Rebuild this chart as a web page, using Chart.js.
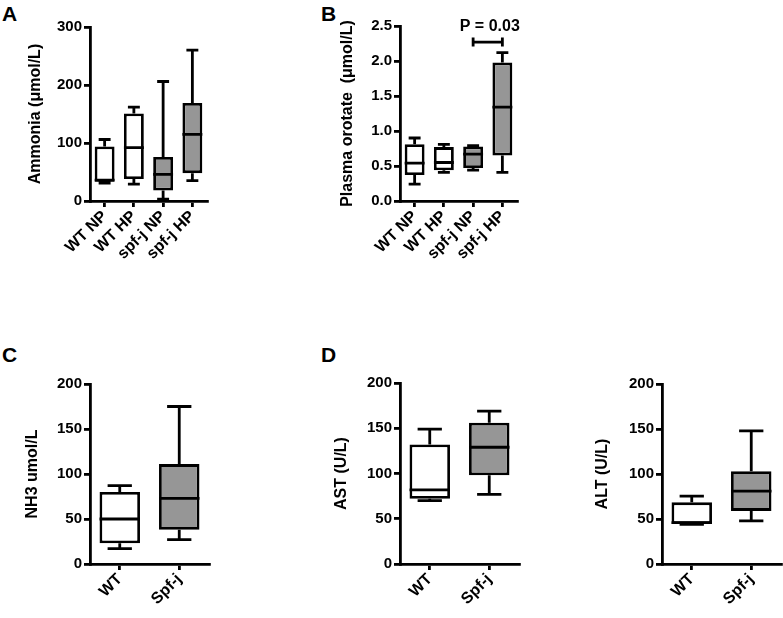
<!DOCTYPE html>
<html>
<head>
<meta charset="utf-8">
<script src="https://cdn.jsdelivr.net/npm/chart.js@4"></script>
<style>
  body { margin: 0; background: #fff; }
  #page { position: relative; width: 783px; height: 618px; overflow: hidden; font-family: 'Liberation Sans', Arial, sans-serif; }
  .panel { position: absolute; }
  .letter { position: absolute; font-weight: bold; font-size: 21px; color: #000; }
</style>
</head>
<body>
<div id="page">
  <div class="letter" style="left:2px;top:2px;">A</div>
  <div class="letter" style="left:321px;top:2px;">B</div>
  <div class="letter" style="left:2px;top:343px;">C</div>
  <div class="letter" style="left:321px;top:343px;">D</div>
  <canvas id="chartA" class="panel" width="230" height="300" style="left:0;top:0;"></canvas>
  <canvas id="chartB" class="panel" width="230" height="300" style="left:310px;top:0;"></canvas>
  <canvas id="chartC" class="panel" width="230" height="298" style="left:0;top:320px;"></canvas>
  <canvas id="chartAST" class="panel" width="230" height="298" style="left:310px;top:320px;"></canvas>
  <canvas id="chartALT" class="panel" width="223" height="298" style="left:560px;top:320px;"></canvas>
</div>
<script>
// --- datos: [min, q1, mediana, q3, max] ---
const groups4 = ['WT NP', 'WT HP', 'spf-j NP', 'spf-j HP'];
const groups2 = ['WT', 'Spf-j'];

const ammonia = [
    [31, 33, 36, 94, 106],
    [29, 38, 92, 151, 162],
    [3, 18, 46, 76, 206],
    [35, 48, 115, 169, 260]
];
const orotate = [
    [0.24, 0.37, 0.54, 0.81, 0.90],
    [0.41, 0.44, 0.55, 0.77, 0.81],
    [0.44, 0.47, 0.67, 0.78, 0.79],
    [0.41, 0.65, 1.34, 1.98, 2.12]
];
const nh3 = [
    [17, 23, 50, 80, 87],
    [27, 38, 73, 111, 175]
];
const ast = [
    [70, 72, 82, 132, 149],
    [77, 98, 129, 156, 169]
];
const alt = [
    [44, 44.5, 46, 68.5, 75.5],
    [48, 59, 81, 103, 148]
];

const fills4 = ['#ffffff', '#ffffff', '#969696', '#969696'];
const fills2 = ['#ffffff', '#969696'];

// anotacion del panel B
const pBracket = { from: 2, to: 3, y: 2.27, textY: 2.49, label: 'P = 0.03' };

const FONT = "'Liberation Sans', Arial, sans-serif";
const LW = 2.8;
Chart.defaults.font.family = FONT;
Chart.defaults.color = '#000';

// --- plugin: bigotes y mediana ---
const whiskerPlugin = {
    id: 'whiskers',
    afterDatasetsDraw(chart) {
        const ctx = chart.ctx;
        const meta = chart.getDatasetMeta(0);
        const yScale = chart.scales.y;
        const stats = chart.data.datasets[0].stats;
        ctx.save();
        ctx.strokeStyle = '#000';
        ctx.lineWidth = LW;
        stats.forEach((s, i) => {
            const bar = meta.data[i];
            const x = bar.x;
            const hw = bar.width / 2;
            const cw = hw * 0.6;
            const yMin = yScale.getPixelForValue(s[0]);
            const yQ1 = yScale.getPixelForValue(s[1]);
            const yMed = yScale.getPixelForValue(s[2]);
            const yQ3 = yScale.getPixelForValue(s[3]);
            const yMax = yScale.getPixelForValue(s[4]);
            ctx.beginPath();
            ctx.moveTo(x, yQ3); ctx.lineTo(x, yMax);
            ctx.moveTo(x - cw, yMax); ctx.lineTo(x + cw, yMax);
            ctx.moveTo(x, yQ1); ctx.lineTo(x, yMin);
            ctx.moveTo(x - cw, yMin); ctx.lineTo(x + cw, yMin);
            ctx.moveTo(x - hw, yMed); ctx.lineTo(x + hw, yMed);
            ctx.stroke();
        });
        ctx.restore();
    }
};

// --- plugin: corchete de significancia ---
const bracketPlugin = {
    id: 'bracket',
    afterDraw(chart, args, opts) {
        if (!opts || !opts.label) return;
        const ctx = chart.ctx;
        const x1 = chart.scales.x.getPixelForValue(opts.from);
        const x2 = chart.scales.x.getPixelForValue(opts.to);
        const y = chart.scales.y.getPixelForValue(opts.y);
        const ty = chart.scales.y.getPixelForValue(opts.textY);
        ctx.save();
        ctx.strokeStyle = '#000';
        ctx.lineWidth = LW;
        ctx.beginPath();
        ctx.moveTo(x1, y); ctx.lineTo(x2, y);
        ctx.moveTo(x1, y - 4.5); ctx.lineTo(x1, y + 4.5);
        ctx.moveTo(x2, y - 4.5); ctx.lineTo(x2, y + 4.5);
        ctx.stroke();
        ctx.fillStyle = '#000';
        ctx.font = 'bold 16px ' + FONT;
        ctx.textAlign = 'center';
        ctx.textBaseline = 'middle';
        ctx.fillText(opts.label, (x1 + x2) / 2 + 2, ty);
        ctx.restore();
    }
};

function renderBoxChart(id, cfg) {
    const ctx = document.getElementById(id).getContext('2d');
    return new Chart(ctx, {
        type: 'bar',
        data: {
            labels: cfg.labels,
            datasets: [{
                data: cfg.stats.map(s => [s[1], s[3]]),
                stats: cfg.stats,
                backgroundColor: cfg.fills,
                borderColor: '#000',
                borderWidth: LW,
                borderSkipped: false,
                barPercentage: 0.68,
                categoryPercentage: 1
            }]
        },
        options: {
            responsive: false,
            animation: false,
            devicePixelRatio: 1,
            layout: { padding: cfg.padding },
            plugins: {
                legend: { display: false },
                tooltip: { enabled: false },
                bracket: cfg.bracket || {}
            },
            scales: {
                x: {
                    offset: true,
                    grid: { offset: false, drawOnChartArea: false, drawTicks: true, tickLength: 6, color: '#000', lineWidth: LW },
                    border: { display: true, color: '#000', width: LW },
                    ticks: { autoSkip: false, minRotation: 45, maxRotation: 45, padding: 0, font: { size: 16, weight: 'bold' } },
                    afterFit: s => { s.height = cfg.xHeight; }
                },
                y: {
                    min: 0,
                    max: cfg.max,
                    grid: { drawOnChartArea: false, drawTicks: true, tickLength: 6, color: '#000', lineWidth: LW },
                    border: { display: true, color: '#000', width: LW },
                    ticks: {
                        stepSize: cfg.step,
                        padding: 2,
                        font: { size: 15, weight: 'bold' },
                        callback: v => cfg.decimals ? v.toFixed(cfg.decimals) : v
                    },
                    title: {
                        display: true,
                        text: cfg.title,
                        font: { size: 16, weight: 'bold' },
                        padding: { top: cfg.titlePad, bottom: 0 }
                    },
                    afterFit: s => { s.width = cfg.yWidth; }
                }
            }
        },
        plugins: [whiskerPlugin, bracketPlugin]
    });
}

window.onload = function() {
    renderBoxChart('chartA', {
        labels: groups4, stats: ammonia, fills: fills4,
        max: 300, step: 100, title: 'Ammonia (μmol/L)',
        yWidth: 90, xHeight: 99, titlePad: 26,
        padding: { top: 27, right: 23, bottom: 0, left: 0 }
    });
    renderBoxChart('chartB', {
        labels: groups4, stats: orotate, fills: fills4,
        max: 2.5, step: 0.5, decimals: 1, title: 'Plasma orotate  (μmol/L)',
        yWidth: 90, xHeight: 99, titlePad: 28,
        padding: { top: 26, right: 23, bottom: 0, left: 0 },
        bracket: pBracket
    });
    renderBoxChart('chartC', {
        labels: groups2, stats: nh3, fills: fills2,
        max: 200, step: 50, title: 'NH3 umol/L',
        yWidth: 90, xHeight: 54, titlePad: 23,
        padding: { top: 64, right: 21, bottom: 0, left: 0 }
    });
    renderBoxChart('chartAST', {
        labels: groups2, stats: ast, fills: fills2,
        max: 200, step: 50, title: 'AST (U/L)',
        yWidth: 90, xHeight: 54, titlePad: 22,
        padding: { top: 63, right: 21, bottom: 0, left: 0 }
    });
    renderBoxChart('chartALT', {
        labels: groups2, stats: alt, fills: fills2,
        max: 200, step: 50, title: 'ALT (U/L)',
        yWidth: 102, xHeight: 54, titlePad: 33,
        padding: { top: 64, right: 2, bottom: 0, left: 0 }
    });
};
</script>
</body>
</html>
